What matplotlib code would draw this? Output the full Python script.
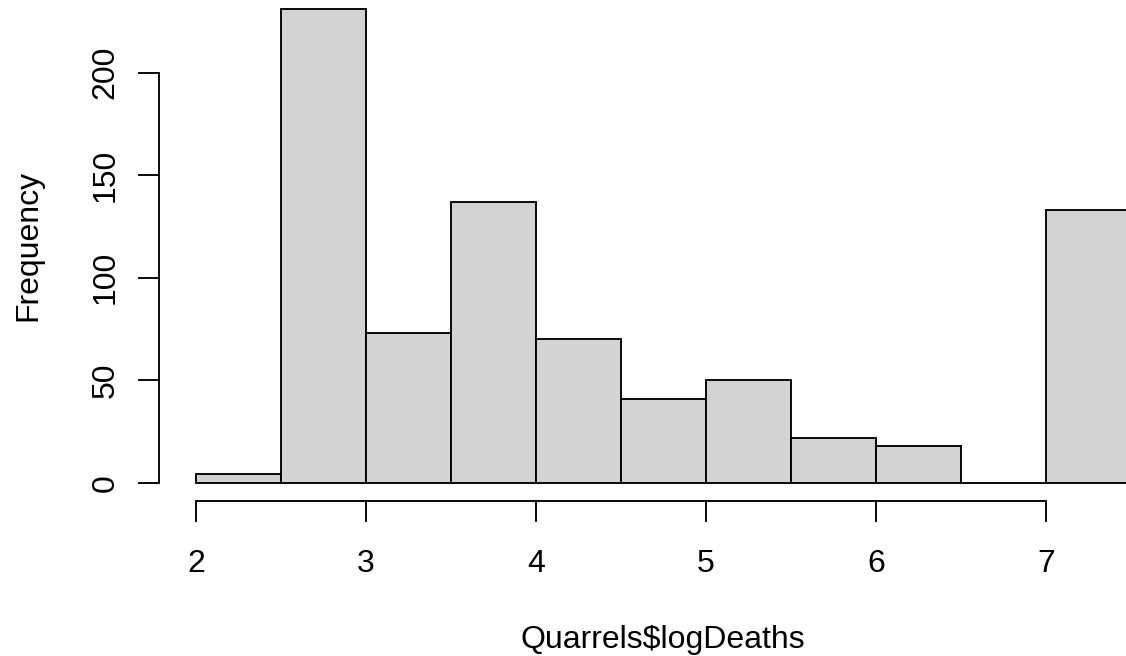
import matplotlib
matplotlib.use("Agg")
import matplotlib.pyplot as plt
from matplotlib.transforms import blended_transform_factory
import numpy as np

# Data
bin_edges = [2.0, 2.5, 3.0, 3.5, 4.0, 4.5, 5.0, 5.5, 6.0, 6.5, 7.0, 7.5]
counts = [4, 231, 73, 137, 70, 41, 50, 22, 18, 0, 133]
x_ticks = [2, 3, 4, 5, 6, 7]
y_ticks = [0, 50, 100, 150, 200]
x_label = "Quarrels$logDeaths"
y_label = "Frequency"

W, H = 1126, 656
DPI = 100
fig = plt.figure(figsize=(W / DPI, H / DPI), dpi=DPI)
ax = fig.add_axes([0, 0, 1, 1])

# pixel mapping
px_per_x = 170.0
x0_px = 196.0
px_per_y = 2.05
y0_px = 482.7
ax.set_xlim(2 - x0_px / px_per_x, 2 + (W - x0_px) / px_per_x)
ax.set_ylim(-(H - y0_px) / px_per_y, y0_px / px_per_y)
ax.axis("off")

FS = 23
FONT = "Liberation Sans"
LW = 1.35

edges = np.array(bin_edges)
widths = np.diff(edges)
ax.bar(edges[:-1], counts, width=widths, align="edge", color="#d3d3d3",
       edgecolor="black", linewidth=LW)

def px2fx(px):
    return px / W

def px2fy(py):
    return 1 - py / H

tr_x = blended_transform_factory(ax.transData, fig.transFigure)
tr_y = blended_transform_factory(fig.transFigure, ax.transData)

# x axis
ax.plot([x_ticks[0], x_ticks[-1]], [px2fy(501)] * 2, color="black", lw=LW,
        transform=tr_x, clip_on=False, solid_capstyle="butt")
for t in x_ticks:
    ax.plot([t, t], [px2fy(501), px2fy(521)], color="black", lw=LW,
            transform=tr_x, clip_on=False)
    ax.text(t, px2fy(571.5), str(t), transform=tr_x, ha="center", va="baseline",
            fontsize=FS, family=FONT)

# y axis
ax.plot([px2fx(158.7)] * 2, [y_ticks[0], y_ticks[-1]], color="black", lw=LW,
        transform=tr_y, clip_on=False, solid_capstyle="butt")
for t in y_ticks:
    ax.plot([px2fx(158.7), px2fx(139.3)], [t, t], color="black", lw=LW,
            transform=tr_y, clip_on=False)
    ax.text(px2fx(113.3), t, str(t), transform=tr_y, ha="center", va="baseline",
            rotation=90, rotation_mode="anchor", fontsize=FS, family=FONT)

fig.text(px2fx(663), px2fy(648), x_label, ha="center", va="baseline",
         fontsize=FS, family=FONT)
fig.text(px2fx(36), px2fy(245), y_label, ha="center", va="baseline",
         rotation=90, rotation_mode="anchor", fontsize=FS, family=FONT)

fig.savefig("out.png", dpi=DPI)
